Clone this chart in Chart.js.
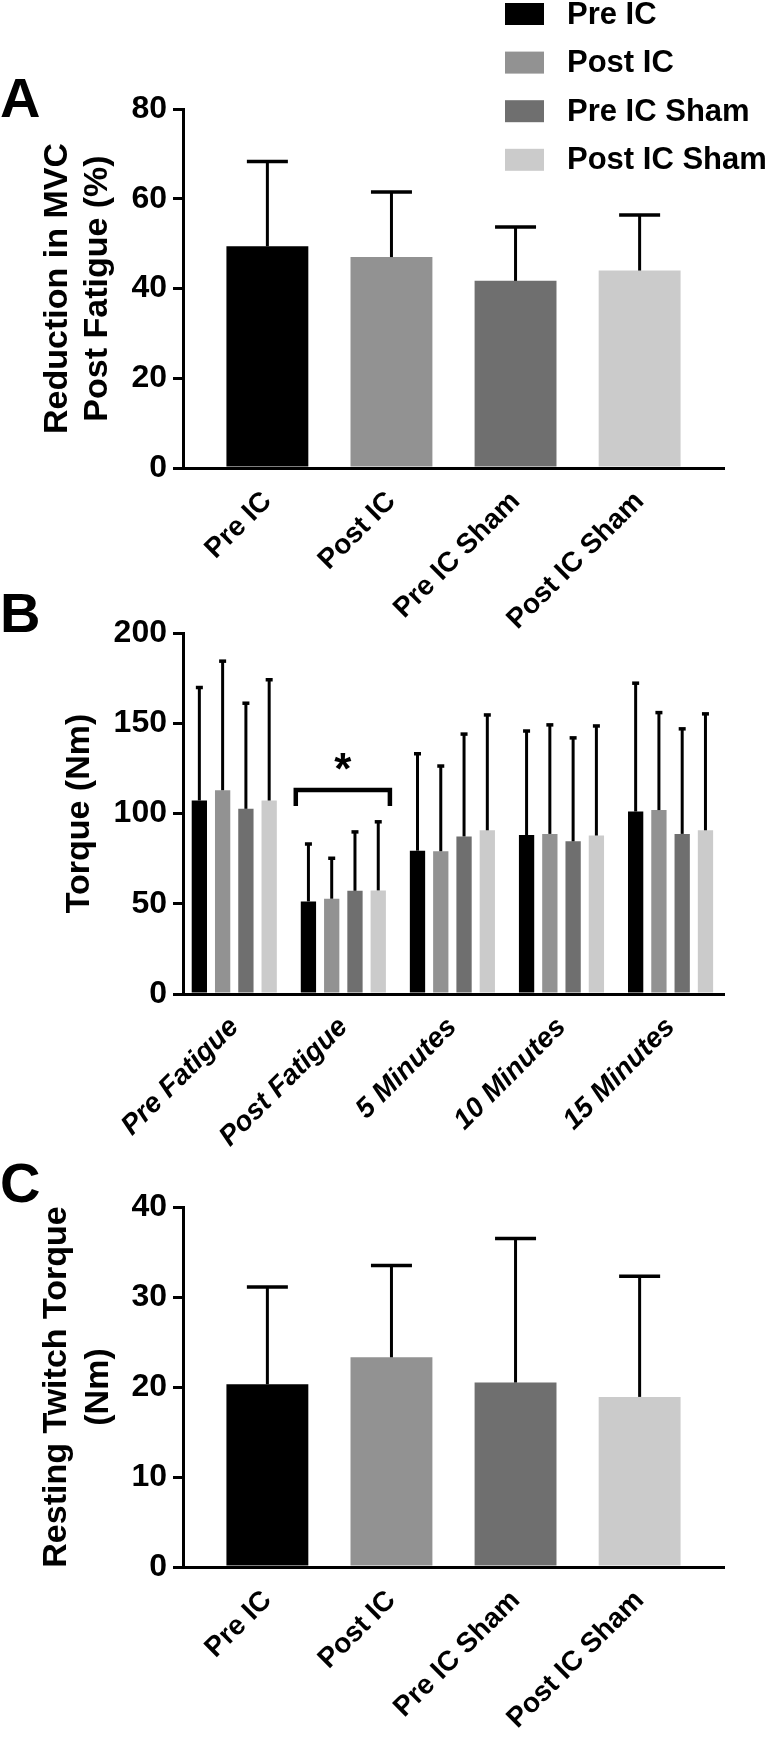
<!DOCTYPE html>
<html>
<head>
<meta charset="utf-8">
<script src="https://cdn.jsdelivr.net/npm/chart.js@4/dist/chart.umd.min.js"></script>
<style>
  body { margin: 0; background: #fff; }
  #wrap { position: relative; width: 774px; height: 1738px; }
  canvas { position: absolute; left: 0; }
</style>
</head>
<body>
<div id="wrap">
  <canvas id="chartA" width="774" height="680" style="top:0px"></canvas>
  <canvas id="chartB" width="774" height="620" style="top:560px"></canvas>
  <canvas id="chartC" width="774" height="598" style="top:1140px"></canvas>
</div>
<script>
var groups = ["Pre IC", "Post IC", "Pre IC Sham", "Post IC Sham"];
var groupColors = ["#000000", "#929292", "#6f6f6f", "#cbcbcb"];
var timePoints = ["Pre Fatigue", "Post Fatigue", "5 Minutes", "10 Minutes", "15 Minutes"];

// A: reduction in MVC post fatigue (%), mean and SD
var mvcMean = [49.4, 47.0, 41.7, 44.0];
var mvcSD = [18.9, 14.5, 12.0, 12.4];
var mvcTicks = [0, 20, 40, 60, 80];

// B: torque (Nm) at each time point, one array per group
var torquePreIC = [107.2, 51.3, 79.4, 88.1, 101.1];
var torquePostIC = [112.9, 52.8, 79.1, 88.7, 101.9];
var torquePreSham = [102.6, 57.2, 87.3, 84.6, 88.7];
var torquePostSham = [107.2, 57.4, 90.7, 87.8, 90.7];
var torqueSDPreIC = [62.6, 31.8, 53.7, 57.6, 71.1];
var torqueSDPostIC = [71.5, 22.4, 47.2, 60.4, 54.0];
var torqueSDPreSham = [58.5, 32.6, 56.7, 57.3, 58.2];
var torqueSDPostSham = [66.9, 38.0, 63.9, 60.7, 64.5];
var torqueTicks = [0, 50, 100, 150, 200];
var sigIndex = 1;      // Post Fatigue
var sigLevel = 113;    // bracket height (Nm)

// C: resting twitch torque (Nm)
var twitchMean = [20.3, 23.3, 20.5, 18.9];
var twitchSD = [10.8, 10.2, 16.0, 13.4];
var twitchTicks = [0, 10, 20, 30, 40];

Chart.defaults.font.family = '"Liberation Sans", Arial, sans-serif';
Chart.defaults.color = '#000';

var FONT = '"Liberation Sans", Arial, sans-serif';

var errorBars = {
  id: 'errorBars',
  afterDatasetsDraw: function (chart, args, opts) {
    var ctx = chart.ctx, y = chart.scales.y;
    ctx.save();
    ctx.strokeStyle = '#000';
    chart.data.datasets.forEach(function (ds, i) {
      chart.getDatasetMeta(i).data.forEach(function (bar, j) {
        var top = y.getPixelForValue(ds.data[j].y + ds.sd[j]);
        ctx.lineWidth = opts.lineWidth;
        ctx.beginPath();
        ctx.moveTo(bar.x, bar.y);
        ctx.lineTo(bar.x, top);
        ctx.stroke();
        ctx.lineWidth = opts.capWidth;
        ctx.beginPath();
        ctx.moveTo(bar.x - opts.cap / 2, top);
        ctx.lineTo(bar.x + opts.cap / 2, top);
        ctx.stroke();
      });
    });
    ctx.restore();
  }
};

var panelLetter = {
  id: 'panelLetter',
  afterDraw: function (chart, args, opts) {
    var ctx = chart.ctx;
    ctx.save();
    ctx.fillStyle = '#000';
    ctx.font = 'bold 56px ' + FONT;
    ctx.textBaseline = 'alphabetic';
    ctx.fillText(opts.text, 0, opts.y);
    ctx.restore();
  }
};

var sideLegend = {
  id: 'sideLegend',
  afterDraw: function (chart, args, opts) {
    if (!opts.show) return;
    var ctx = chart.ctx;
    ctx.save();
    ctx.font = 'bold 31px ' + FONT;
    ctx.textBaseline = 'middle';
    groups.forEach(function (g, i) {
      var cy = opts.top + i * opts.step;
      ctx.fillStyle = groupColors[i];
      ctx.fillRect(opts.x, cy - 11, 39, 22);
      ctx.fillStyle = '#000';
      ctx.fillText(g, opts.x + 62, cy + 1);
    });
    ctx.restore();
  }
};

var sigBracket = {
  id: 'sigBracket',
  afterDatasetsDraw: function (chart, args, opts) {
    if (opts.index === undefined) return;
    var ctx = chart.ctx;
    var n = chart.data.datasets.length;
    var first = chart.getDatasetMeta(0).data[opts.index];
    var last = chart.getDatasetMeta(n - 1).data[opts.index];
    var x1 = first.x - first.width / 2 - 5;
    var x2 = last.x + last.width / 2 + 4;
    var y = chart.scales.y.getPixelForValue(opts.value);
    ctx.save();
    ctx.strokeStyle = '#000';
    ctx.lineWidth = 4.5;
    ctx.beginPath();
    ctx.moveTo(x1, y + 16);
    ctx.lineTo(x1, y);
    ctx.lineTo(x2, y);
    ctx.lineTo(x2, y + 16);
    ctx.stroke();
    ctx.fillStyle = '#000';
    ctx.font = 'bold 44px ' + FONT;
    ctx.textAlign = 'center';
    ctx.textBaseline = 'alphabetic';
    ctx.fillText('*', (x1 + x2) / 2, y - 6);
    ctx.restore();
  }
};

function yAxis(ticks, title, titlePad, lineH) {
  return {
    min: ticks[0],
    max: ticks[ticks.length - 1],
    afterBuildTicks: function (s) { s.ticks = ticks.map(function (v) { return {value: v}; }); },
    afterFit: function (s) { s.width = 183; },
    grid: {drawOnChartArea: false, drawTicks: true, tickLength: 10, lineWidth: 3, color: '#000'},
    border: {display: true, width: 3, color: '#000'},
    ticks: {font: {size: 32, weight: 'bold'}, color: '#000', padding: 6},
    title: {
      display: true, text: title, color: '#000',
      font: {size: 34, weight: 'bold', lineHeight: lineH + 'px'},
      padding: {top: titlePad, bottom: 0}
    }
  };
}

function xAxis(labels, min, max, height, font, pad) {
  return {
    type: 'linear',
    offset: false,
    min: min,
    max: max,
    afterBuildTicks: function (s) { s.ticks = labels.map(function (l, i) { return {value: i}; }); },
    afterFit: function (s) { s.height = height; },
    grid: {display: false, drawTicks: false, offset: false},
    border: {display: true, width: 3, color: '#000'},
    ticks: {
      autoSkip: false, minRotation: 45, maxRotation: 45,
      font: font, color: '#000', padding: pad,
      callback: function (v) { return labels[v]; }
    }
  };
}

function points(values) {
  return values.map(function (v, i) { return {x: i, y: v}; });
}

function baseOptions(top, x, y, plugins) {
  return {
    responsive: false,
    animation: false,
    events: [],
    layout: {padding: {top: top, right: 50, bottom: 0, left: 0}},
    scales: {x: x, y: y},
    plugins: Object.assign({legend: {display: false}, tooltip: {enabled: false}}, plugins)
  };
}

var allPlugins = [errorBars, panelLetter, sideLegend, sigBracket];

// Panel A
new Chart(document.getElementById('chartA'), {
  type: 'bar',
  data: {
    datasets: [{
      data: points(mvcMean),
      sd: mvcSD,
      backgroundColor: groupColors,
      categoryPercentage: 1,
      barPercentage: 0.66
    }]
  },
  options: baseOptions(109,
    xAxis(groups, -0.68, 3.68, 212, {size: 28, weight: 'bold'}, 17),
    yAxis(mvcTicks, ['Reduction in MVC', 'Post Fatigue (%)'], 38, 40),
    {
      errorBars: {lineWidth: 3, capWidth: 3.5, cap: 41},
      panelLetter: {text: 'A', y: 117},
      sideLegend: {show: true, x: 505, top: 14, step: 48.6},
      sigBracket: {}
    }),
  plugins: allPlugins
});

// Panel B
var torqueSeries = [torquePreIC, torquePostIC, torquePreSham, torquePostSham];
var torqueSD = [torqueSDPreIC, torqueSDPostIC, torqueSDPreSham, torqueSDPostSham];
new Chart(document.getElementById('chartB'), {
  type: 'bar',
  data: {
    datasets: groups.map(function (g, i) {
      return {
        label: g,
        data: points(torqueSeries[i]),
        sd: torqueSD[i],
        backgroundColor: groupColors[i],
        categoryPercentage: 0.8535,
        barPercentage: 0.657
      };
    })
  },
  options: baseOptions(73,
    xAxis(timePoints, -0.47, 4.49, 186, {size: 28, weight: 'bold', style: 'italic'}, 17),
    yAxis(torqueTicks, 'Torque (Nm)', 60, 40),
    {
      errorBars: {lineWidth: 3, capWidth: 3.5, cap: 7},
      panelLetter: {text: 'B', y: 72},
      sideLegend: {show: false},
      sigBracket: {index: sigIndex, value: sigLevel}
    }),
  plugins: allPlugins
});

// Panel C
new Chart(document.getElementById('chartC'), {
  type: 'bar',
  data: {
    datasets: [{
      data: points(twitchMean),
      sd: twitchSD,
      backgroundColor: groupColors,
      categoryPercentage: 1,
      barPercentage: 0.66
    }]
  },
  options: baseOptions(67,
    xAxis(groups, -0.68, 3.68, 171, {size: 28, weight: 'bold'}, 17),
    yAxis(twitchTicks, ['Resting Twitch Torque', '(Nm)'], 36, 42),
    {
      errorBars: {lineWidth: 3, capWidth: 3.5, cap: 41},
      panelLetter: {text: 'C', y: 62},
      sideLegend: {show: false},
      sigBracket: {}
    }),
  plugins: allPlugins
});
</script>
</body>
</html>
